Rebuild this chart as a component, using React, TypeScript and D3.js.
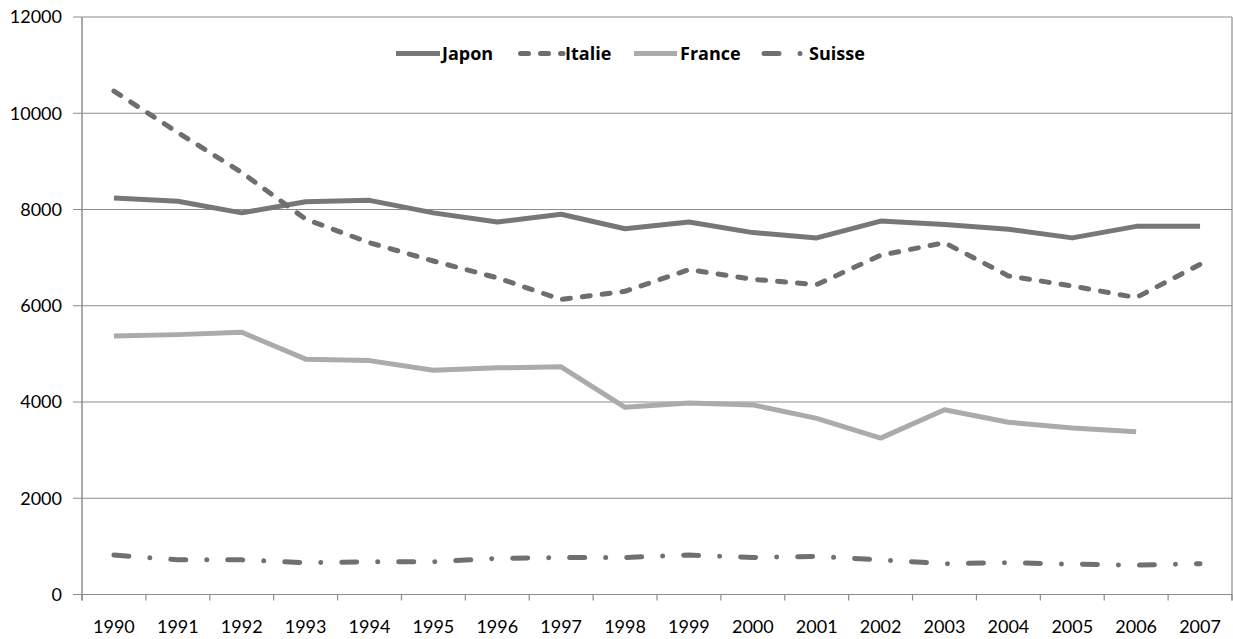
import React from "react";
import * as d3 from "d3";

const years = ["1990","1991","1992","1993","1994","1995","1996","1997","1998","1999","2000","2001","2002","2003","2004","2005","2006","2007"];
const japon = [8240, 8170, 7930, 8160, 8190, 7930, 7740, 7900, 7600, 7740, 7520, 7410, 7760, 7690, 7590, 7410, 7650, 7650];
const italie = [10460, 9600, 8770, 7800, 7310, 6930, 6580, 6130, 6300, 6750, 6550, 6440, 7050, 7310, 6620, 6410, 6170, 6860];
const france: (number | null)[] = [5370, 5400, 5450, 4890, 4860, 4660, 4710, 4730, 3890, 3980, 3940, 3660, 3250, 3840, 3580, 3460, 3380, null];
const suisse = [820, 720, 720, 660, 680, 680, 750, 770, 770, 820, 770, 790, 720, 640, 660, 630, 610, 640];
const yTicks = [0, 2000, 4000, 6000, 8000, 10000, 12000];

const seriesDefs = [
  { name: "Japon", values: japon as (number | null)[], color: "#777777", dash: "" },
  { name: "Italie", values: italie as (number | null)[], color: "#6e6e6e", dash: "8 12" },
  { name: "France", values: france, color: "#ababab", dash: "" },
  { name: "Suisse", values: suisse as (number | null)[], color: "#707070", dash: "15 21 0.01 21" },
];

const W = 1233, H = 639;
const left = 82, right = 1232, top = 17, bottom = 594.5;
const FONT = "Lato, 'Open Sans', sans-serif";
const LEGEND_FONT = "'Open Sans', Lato, sans-serif";

export default function App() {
  const x = d3.scalePoint<string>().domain(years).range([left, right]).padding(0.5);
  const y = d3.scaleLinear().domain([0, 12000]).range([bottom, top]);
  const step = x.step();
  const bounds = d3.range(years.length + 1).map((i) => left + i * step);

  const line = d3
    .line<number | null>()
    .defined((d) => d != null)
    .x((_, i) => x(years[i]) as number)
    .y((d) => y(d as number));

  const legendItems = [
    { x1: 396, x2: 440, tx: 442 },
    { x1: 520.5, x2: 563, tx: 565 },
    { x1: 634, x2: 677, tx: 680 },
    { x1: 764, x2: 800.5, tx: 809 },
  ];

  return (
    <svg width={W} height={H} style={{ position: "absolute", left: 0, top: 0, background: "#fff" }}>
      {yTicks.map((t) => (
        <g key={t}>
          <line x1={left - 9} x2={right} y1={y(t)} y2={y(t)} stroke="#8c8c8c" strokeWidth={1.2} />
          <text x={62} y={y(t)} dy="0.35em" textAnchor="end" fontFamily={FONT} fontSize={18} fill="#000">
            {t}
          </text>
        </g>
      ))}
      <line x1={left} x2={left} y1={top} y2={bottom + 6} stroke="#8c8c8c" strokeWidth={1.5} />
      <line x1={right} x2={right} y1={top} y2={bottom + 6} stroke="#8c8c8c" strokeWidth={1.2} />
      {bounds.map((b, i) => (
        <line key={i} x1={b} x2={b} y1={bottom} y2={bottom + 6} stroke="#8c8c8c" strokeWidth={1.2} />
      ))}
      {years.map((yr) => (
        <text key={yr} x={x(yr)} y={627} dy="0.35em" textAnchor="middle" fontFamily={FONT} fontSize={18} fill="#000">
          {yr}
        </text>
      ))}
      {seriesDefs.map((s) => (
        <path
          key={s.name}
          d={line(s.values) || ""}
          fill="none"
          stroke={s.color}
          strokeWidth={5}
          strokeDasharray={s.dash || undefined}
          strokeLinecap={s.dash ? "round" : "butt"}
          strokeLinejoin="round"
        />
      ))}
      {seriesDefs.map((s, i) => {
        const li = legendItems[i];
        return (
          <g key={s.name}>
            <line
              x1={li.x1}
              x2={li.x2}
              y1={53.5}
              y2={53.5}
              stroke={s.color}
              strokeWidth={5}
              strokeDasharray={s.dash || undefined}
              strokeLinecap={s.dash ? "round" : "butt"}
            />
            <text x={li.tx} y={53.5} dy="0.35em" fontFamily={LEGEND_FONT} fontWeight="bold" fontSize={18} fill="#000">
              {s.name}
            </text>
          </g>
        );
      })}
    </svg>
  );
}
